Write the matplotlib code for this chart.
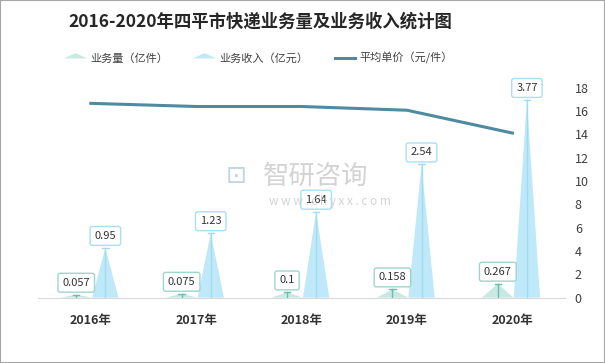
import matplotlib
matplotlib.use('Agg')
import matplotlib.pyplot as plt
from matplotlib.lines import Line2D
from matplotlib.patches import Rectangle
import numpy as np

plt.rcParams['font.family'] = ['Noto Sans CJK SC', 'DejaVu Sans']

# data
years = ['2016年', '2017年', '2018年', '2019年', '2020年']
volume = [0.057, 0.075, 0.1, 0.158, 0.267]      # 业务量（亿件）
revenue = [0.95, 1.23, 1.64, 2.54, 3.77]        # 业务收入（亿元）
price = [16.67, 16.4, 16.4, 16.08, 14.12]       # 平均单价（元/件）
price_ticks = [0, 2, 4, 6, 8, 10, 12, 14, 16, 18]

vol_fill = '#c8e8e2'
vol_edge = '#6bbfb0'
rev_fill = '#bfe9f8'
rev_edge = '#9fdcf0'
line_col = '#4e8aa0'

fig = plt.figure(figsize=(6.05, 3.63), dpi=100)
fig.patches.append(Rectangle((0, 0), 1, 1, transform=fig.transFigure,
                             fill=False, edgecolor='#a6a6a6', linewidth=1.5))
ax = fig.add_axes([0.063, 0.18, 0.871, 0.578])
ax2 = ax.twinx()

x = np.arange(len(years))
off = 0.138

def triangle(ax, xc, h, hw, fc, ec, txt, boxec):
    ax.fill([xc - hw, xc, xc + hw], [0, h, 0], color=fc, lw=0, zorder=2)
    ax.plot([xc, xc], [0, h], color=ec, lw=1, zorder=3)
    ax.plot([xc - 0.03, xc + 0.03], [h, h], color=ec, lw=1, zorder=3)
    ax.annotate(txt, (xc, h), xytext=(0, 5), textcoords='offset points',
                ha='center', va='bottom', fontsize=8, color='#333333', zorder=5,
                bbox=dict(boxstyle='round,pad=0.4,rounding_size=0.2', fc='white',
                          ec=boxec, lw=1))

for i in range(len(years)):
    triangle(ax, x[i] - off, volume[i], 0.15, vol_fill, vol_edge, str(volume[i]), '#9ed6cb')
    triangle(ax, x[i] + off, revenue[i], 0.125, rev_fill, rev_edge, str(revenue[i]), '#a8e0f3')

ax.set_xlim(-0.5, len(years) - 0.5)
ax.set_ylim(0, 4)
ax.set_yticks([])
ax.set_xticks(x)
ax.set_xticklabels(years, fontsize=9, fontweight='bold', color='#333333')
ax.tick_params(axis='x', length=0, pad=12)
for s in ['top', 'left', 'right']:
    ax.spines[s].set_visible(False)
ax.spines['bottom'].set_color('#d9d9d9')

ax2.plot(x, price, color=line_col, lw=2.2, zorder=4)
ax2.set_ylim(0, 18)
ax2.set_yticks(price_ticks)
ax2.tick_params(axis='y', length=0, labelsize=9, labelcolor='#404040', pad=7)
for s in ['top', 'left', 'right', 'bottom']:
    ax2.spines[s].set_visible(False)

# watermark
fig.text(0.435, 0.515, '智研咨询', fontsize=19, color='#c8c8c8', ha='left', va='center', alpha=0.8)
fig.text(0.445, 0.445, 'w w w . c h y x x . c o m', fontsize=8.5, color='#c8c8c8', ha='left',
         va='center', alpha=0.8)
fig.text(0.39, 0.515, '⊡', fontsize=18, color='#b4c8dc', ha='center', va='center', alpha=0.8)

fig.text(0.43, 0.94, '2016-2020年四平市快递业务量及业务收入统计图', ha='center', va='center',
         fontsize=12.5, fontweight='bold', color='#262626')

flat_tri = [(-1, 0), (0, 0.45), (1, 0), (-1, 0)]
handles = [Line2D([], [], marker=flat_tri, color='none', markerfacecolor=vol_fill,
                  markeredgecolor='none', markersize=17),
           Line2D([], [], marker=flat_tri, color='none', markerfacecolor=rev_fill,
                  markeredgecolor='none', markersize=17),
           Line2D([], [], color=line_col, lw=2.2)]
fig.legend(handles, ['业务量（亿件）', '业务收入（亿元）', '平均单价（元/件）'],
           loc='center', bbox_to_anchor=(0.428, 0.84), ncol=3, frameon=False,
           fontsize=8, handlelength=1.8, columnspacing=2.4, handletextpad=0.4,
           labelcolor='#404040')

fig.savefig('out.png', dpi=100)
